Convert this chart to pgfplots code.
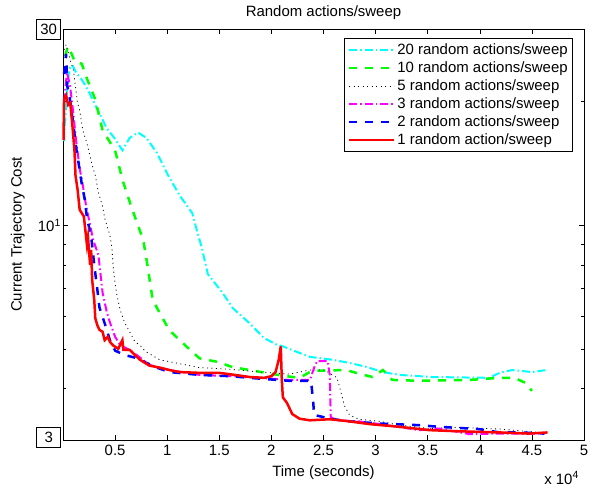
\documentclass[border=0pt]{standalone}
\usepackage{fontspec}
\setmainfont{Liberation Sans}
\usepackage{pgfplots}
\pgfplotsset{compat=1.18}
\usepackage{pgfplotstable}

\definecolor{mcyan}{rgb}{0,1,1}
\definecolor{mgreen}{rgb}{0,1,0}
\definecolor{mmagenta}{rgb}{1,0,1}
\definecolor{mblue}{rgb}{0,0,1}
\definecolor{mred}{rgb}{1,0,0}

% time in units of 10^4 s, cost
\pgfplotstableread{
x y
0.01 16.0
0.035 20.5
0.06 24.0
0.09 24.5
0.13 23.4
0.18 22.6
0.24 21.3
0.34 18.9
0.42 17.2
0.50 16.2
0.57 15.2
0.64 16.3
0.72 16.8
0.80 16.3
0.90 15.0
1.01 13.2
1.12 11.8
1.24 10.7
1.29 9.6
1.33 8.85
1.39 7.6
1.53 6.85
1.63 6.28
1.79 5.77
1.93 5.31
2.05 5.12
2.11 5.07
2.24 4.92
2.37 4.78
2.59 4.70
2.75 4.62
2.91 4.52
3.07 4.39
3.23 4.32
3.54 4.27
4.09 4.25
4.19 4.37
4.31 4.44
4.50 4.39
4.64 4.44
}\twenty

\pgfplotstableread{
x y
0.02 25.8
0.048 27.2
0.086 26.0
0.115 24.9
0.18 24.7
0.23 22.7
0.31 20.2
0.38 17.0
0.50 15.2
0.57 12.9
0.66 11.0
0.77 9.2
0.80 8.3
0.86 6.6
0.90 6.3
1.02 5.55
1.19 5.05
1.31 4.74
1.48 4.65
1.63 4.51
1.79 4.44
1.95 4.37
2.11 4.30
2.27 4.25
2.39 4.42
2.72 4.44
2.84 4.35
2.97 4.27
3.07 4.44
3.16 4.20
3.42 4.18
3.90 4.20
4.19 4.25
4.33 4.25
4.44 4.13
4.50 3.95
}\ten

\pgfplotstableread{
x y
0.01 26.7
0.03 27.5
0.07 25.2
0.10 23.8
0.14 19.8
0.16 19.05
0.19 17.0
0.23 15.8
0.28 14.0
0.31 13.2
0.34 12.0
0.38 11.1
0.40 10.4
0.45 9.45
0.47 8.8
0.48 8.0
0.50 7.2
0.52 6.7
0.55 6.2
0.59 5.8
0.64 5.5
0.69 5.2
0.74 5.1
0.79 4.93
0.93 4.70
1.12 4.6
1.31 4.5
1.60 4.46
1.89 4.39
2.17 4.34
2.37 4.44
2.51 4.44
2.63 4.25
2.67 3.9
2.70 3.64
2.75 3.45
2.84 3.37
3.04 3.33
3.23 3.26
3.52 3.20
3.80 3.22
4.19 3.19
4.57 3.13
}\five

\pgfplotstableread{
x y
0.01 20.0
0.038 23.5
0.067 21.9
0.096 19.0
0.125 16.1
0.163 13.6
0.19 12.5
0.22 11.2
0.26 10.0
0.29 9.2
0.34 8.45
0.36 7.6
0.38 6.85
0.42 6.15
0.45 5.8
0.50 5.35
0.55 5.1
0.64 4.97
0.74 4.76
0.83 4.57
1.02 4.44
1.31 4.32
1.60 4.29
1.89 4.25
2.17 4.20
2.37 4.20
2.41 4.50
2.44 4.67
2.54 4.67
2.56 4.32
2.57 3.40
2.65 3.35
2.84 3.33
3.04 3.28
3.42 3.17
3.61 3.20
3.90 3.10
4.19 3.11
4.62 3.11
}\three

\pgfplotstableread{
x y
0.01 23.3
0.03 26.1
0.04 21.9
0.07 20.0
0.10 17.5
0.13 15.2
0.16 13.6
0.18 12.6
0.21 11.5
0.23 10.4
0.27 9.4
0.30 8.0
0.33 6.95
0.35 6.3
0.40 5.77
0.45 5.25
0.50 4.95
0.59 4.83
0.69 4.76
0.90 4.50
1.02 4.39
1.31 4.32
1.60 4.29
1.89 4.23
2.17 4.18
2.38 4.18
2.40 3.75
2.41 3.45
2.46 3.43
2.56 3.38
2.75 3.33
3.04 3.29
3.42 3.26
3.61 3.23
3.99 3.19
4.19 3.13
4.38 3.13
4.62 3.11
}\two

\pgfplotstableread{
x y
0.005 16.1
0.01 20.2
0.03 20.7
0.05 19.6
0.07 19.8
0.09 17.5
0.11 15.2
0.12 13.2
0.14 12.2
0.16 10.9
0.20 10.5
0.23 8.95
0.24 9.35
0.26 8.0
0.27 8.7
0.28 7.35
0.30 6.57
0.31 5.93
0.33 5.7
0.35 5.56
0.38 5.5
0.40 5.25
0.43 5.35
0.45 5.2
0.48 5.1
0.53 5.0
0.57 5.25
0.58 4.97
0.64 4.97
0.69 4.83
0.74 4.70
0.83 4.55
0.93 4.50
1.02 4.44
1.12 4.39
1.31 4.37
1.50 4.37
1.65 4.32
1.79 4.27
1.93 4.25
2.00 4.29
2.04 4.39
2.07 4.70
2.09 5.07
2.10 4.20
2.11 3.81
2.15 3.69
2.20 3.47
2.27 3.38
2.37 3.35
2.56 3.37
2.75 3.33
2.94 3.28
3.23 3.23
3.52 3.17
3.80 3.15
4.19 3.13
4.47 3.11
4.65 3.13
}\one

\begin{document}
\fontsize{15}{17.5}\selectfont
\begin{tikzpicture}
\begin{axis}[
  scale only axis,
  width=521bp, height=411bp,
  xmin=0, xmax=5,
  ymode=log, ymin=3, ymax=30,
  xtick={0.5,1,...,5},
  ytick={10}, yticklabels={10\textsuperscript{1}},
  minor ytick={4,5,6,7,8,9,20},
  tick align=inside,
  major tick length=5bp, minor tick length=3bp,
  axis line style={line width=0.8bp},
  every tick/.style={black, line width=0.6bp},
  /pgf/number format/assume math mode=true,
  ticklabel style={font=\fontsize{15}{17.5}\selectfont},
  yticklabel style={xshift=3bp},
  title={Random actions/sweep},
  title style={yshift=-2bp},
  xlabel={Time (seconds)},
  ylabel={Current Trajectory Cost},
  ylabel shift=3bp,
  clip=false,
  legend cell align=left,
  legend style={at={(0.979,0.978)}, anchor=north east, draw=black,
    line width=0.8bp, font=\fontsize{15}{17.5}\selectfont,
    inner xsep=3bp, inner ysep=3bp, row sep=1bp},
  legend image code/.code={\draw[#1] (0bp,0bp) -- (45bp,0bp);},
]
\addplot[mcyan, line width=2bp, dash pattern=on 8bp off 3bp on 1.5bp off 3bp] table {\twenty};
\addplot[mgreen, line width=2.5bp, dash pattern=on 8bp off 8bp] table {\ten};
\addplot[black, line width=0.8bp, dash pattern=on 1bp off 3.5bp] table {\five};
\addplot[mmagenta, line width=2bp, dash pattern=on 8bp off 3bp on 1.5bp off 3bp] table {\three};
\addplot[mblue, line width=2.5bp, dash pattern=on 8bp off 8bp] table {\two};
\addplot[mred, line width=2.5bp] table {\one};
\legend{20 random actions/sweep, 10 random actions/sweep, 5 random actions/sweep,
  3 random actions/sweep, 2 random actions/sweep, 1 random action/sweep}
\node[draw, fill=white, line width=0.6bp, minimum width=24bp, minimum height=20bp,
  anchor=east, inner sep=1bp] at ([xshift=-2bp]rel axis cs:0,1) {30};
\node[draw, fill=white, line width=0.6bp, minimum width=24bp, minimum height=20bp,
  anchor=east, inner sep=1bp] at ([xshift=-2bp,yshift=3bp]rel axis cs:0,0) {3};
\node[anchor=base east] at ([yshift=-44bp]rel axis cs:1,0) {x 10\textsuperscript{4}};
% figure frame (white margin as in the original export)
\path ([xshift=-63bp,yshift=-47bp]rel axis cs:0,0) rectangle ([xshift=11bp,yshift=29bp]rel axis cs:1,1);
\end{axis}
\end{tikzpicture}
\end{document}
